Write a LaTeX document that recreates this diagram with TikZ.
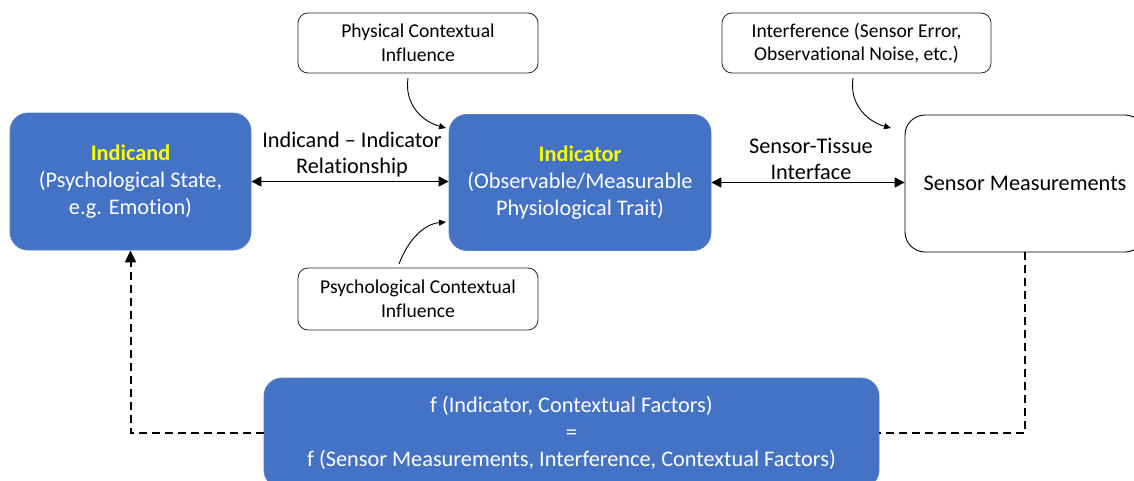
\documentclass[tikz,border=0pt]{standalone}
\usepackage{fontspec}
\setmainfont{Carlito}[Ligatures=NoCommon]
\usetikzlibrary{arrows.meta}
\definecolor{boxblue}{HTML}{4472C4}
\definecolor{labelyellow}{HTML}{FFFF00}
\begin{document}
\begin{tikzpicture}[x=1pt,y=-1pt,
  bluebox/.style={draw=boxblue!90!white,line width=0.8pt,fill=boxblue,rounded corners=18pt,
    text=white,align=center,inner sep=0pt,font=\fontsize{22.3}{27}\selectfont},
  whitebox/.style={draw=black,line width=0.9pt,fill=white,rounded corners=20pt,
    align=center,inner sep=0pt,font=\fontsize{22.3}{27}\selectfont},
  notebox/.style={draw=black!85,line width=0.8pt,fill=white,rounded corners=10pt,
    align=center,inner sep=0pt,font=\fontsize{19.6}{23.5}\selectfont},
  linklabel/.style={align=center,inner sep=0pt,font=\fontsize{22.3}{26}\selectfont},
  biarrow/.style={line width=1.3pt,{Triangle[length=10pt,width=10pt]}-{Triangle[length=10pt,width=10pt]}},
  curvearrow/.style={line width=0.9pt,-{Triangle[length=7pt,width=6pt]}},
  feedback/.style={line width=2pt,dash pattern=on 8pt off 5pt}
]
\useasboundingbox (0,0) rectangle (1134,480);
\begin{scope}
\clip (0,0) rectangle (1134,480);

% main chain
\node[bluebox,minimum width=241pt,minimum height=137pt] (indicand) at (130.5,181.5)
  {\textcolor{labelyellow}{\textbf{Indicand}}\\(Psychological State,\\e.g. Emotion)};
\node[bluebox,minimum width=262pt,minimum height=136pt] (indicator) at (580,182.5)
  {\textcolor{labelyellow}{\textbf{Indicator}}\\(Observable/Measurable\\Physiological Trait)};
\node[whitebox,minimum width=240pt,minimum height=137pt] (sensor) at (1025,183.5)
  {Sensor Measurements};

% influences
\node[notebox,minimum width=240pt,minimum height=60pt] (phys) at (418,43)
  {Physical Contextual\\Influence};
\node[notebox,minimum width=269pt,minimum height=60pt] (interf) at (856.5,43)
  {Interference (Sensor Error,\\Observational Noise, etc.)};
\node[notebox,minimum width=240pt,minimum height=62pt] (psych) at (418,299)
  {Psychological Contextual\\Influence};

% estimation function
\node[bluebox,minimum width=615pt,minimum height=110pt] (formula) at (571.5,433)
  {f (Indicator, Contextual Factors)\\=\\f (Sensor Measurements, Interference, Contextual Factors)};

% link labels
\node[linklabel] (rellabel) at (352,155) {Indicand -- Indicator\\Relationship};
\node[linklabel] (ifacelabel) at (811,159) {Sensor-Tissue\\Interface};

% two-way links
\draw[biarrow] (indicand.east) -- (indicand.east -| indicator.west);
\draw[biarrow] (indicator.east) -- (indicator.east -| sensor.west);

% curved influence arrows
\coordinate (physout) at (408,78);
\coordinate (physin) at (446,128);
\coordinate (interfout) at (853,78);
\coordinate (interfin) at (891,128);
\coordinate (psychout) at (399,264);
\coordinate (psychin) at (446,222);
\draw[curvearrow] (physout) .. controls (404,106) and (424,122) .. (physin);
\draw[curvearrow] (interfout) .. controls (849,106) and (869,122) .. (interfin);
\draw[curvearrow] (psychout) .. controls (408,240) and (424,224) .. (psychin);

% feedback path
\draw[feedback] (sensor.south) |- (formula.east);
\draw[feedback,-{Triangle[length=12pt,width=11pt]}] (formula.west) -| (indicand.south);
\end{scope}
\end{tikzpicture}
\end{document}
